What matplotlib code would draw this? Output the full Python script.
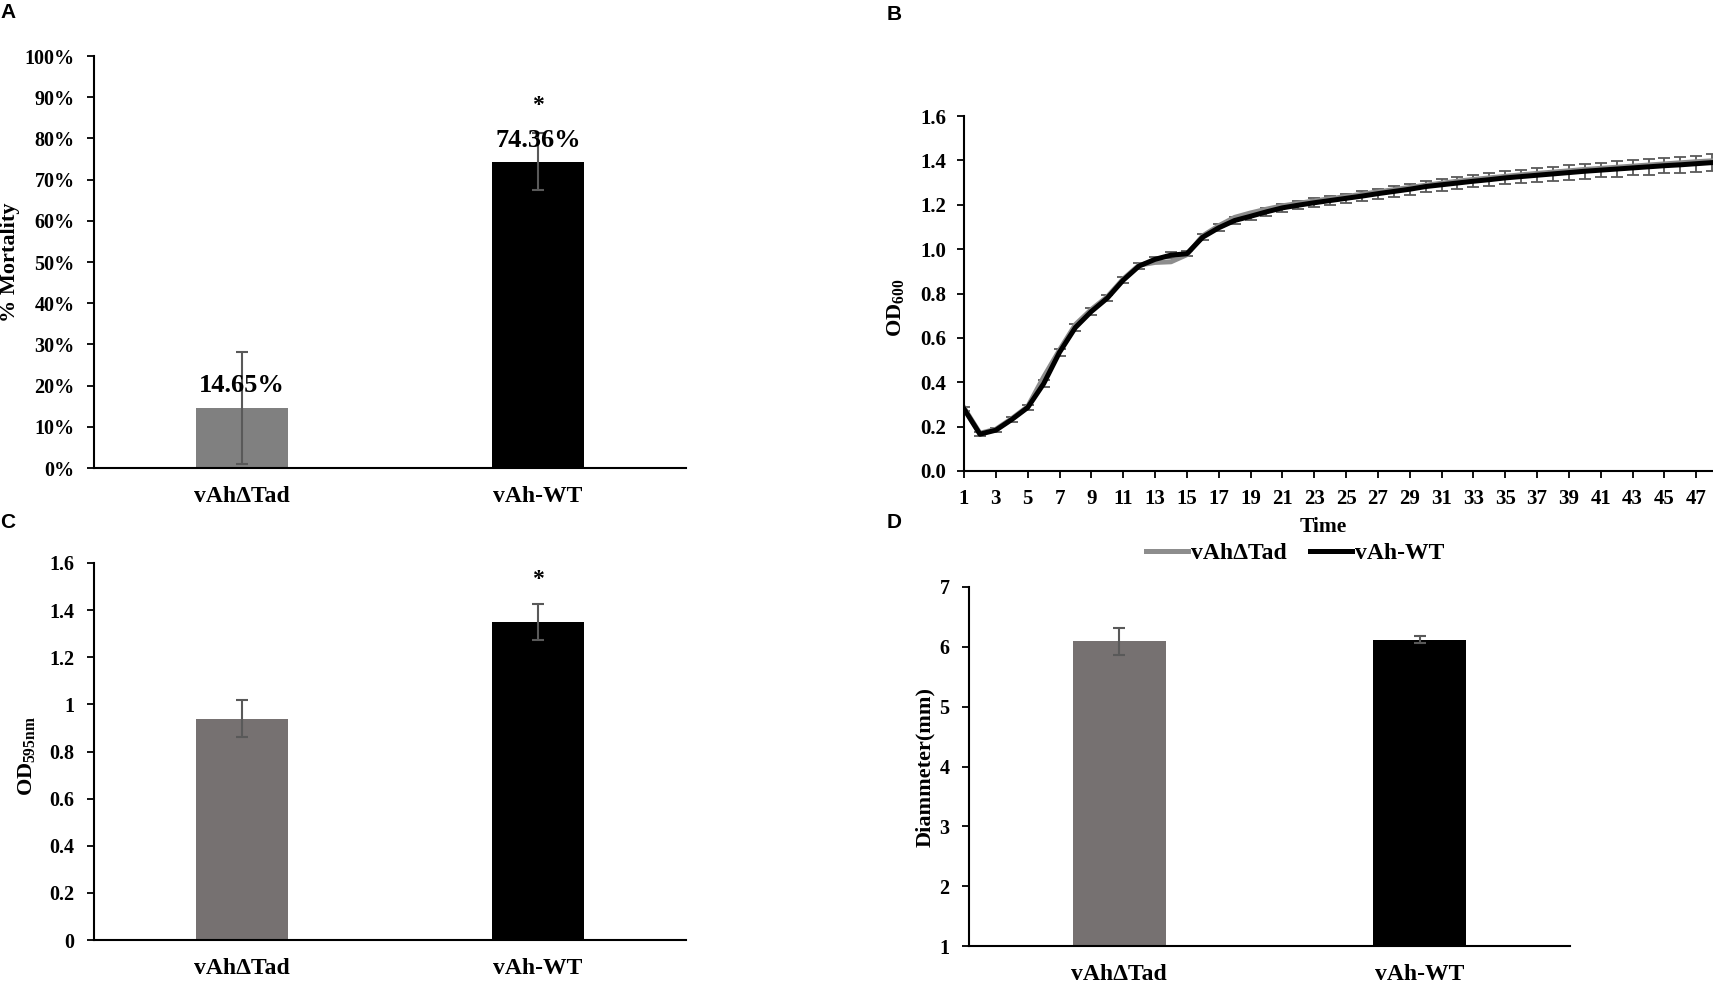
import matplotlib
matplotlib.use('Agg')
import matplotlib.pyplot as plt
from matplotlib.ticker import FuncFormatter, MultipleLocator

plt.rcParams['font.family'] = ['Liberation Serif', 'DejaVu Serif']
plt.rcParams['font.weight'] = 'bold'
plt.rcParams['mathtext.fontset'] = 'custom'
plt.rcParams['mathtext.rm'] = 'Liberation Serif:bold'
plt.rcParams['mathtext.bf'] = 'Liberation Serif:bold'
plt.rcParams['axes.linewidth'] = 1.5

# ---- data ----
strains = ['vAhΔTad', 'vAh-WT']

# A: mortality (%)
mortality = [14.65, 74.36]
mortality_err = [13.6, 7.0]
mortality_labels = ['14.65%', '74.36%']

# B: growth curve OD600
time = list(range(1, 49))
od_wt = [0.280, 0.166, 0.184, 0.232, 0.286, 0.393, 0.535, 0.647, 0.719, 0.779,
         0.860, 0.924, 0.954, 0.973, 0.979, 1.054, 1.096, 1.129, 1.148, 1.168,
         1.186, 1.198, 1.209, 1.219, 1.229, 1.239, 1.250, 1.260, 1.270, 1.282,
         1.290, 1.298, 1.306, 1.313, 1.321, 1.327, 1.333, 1.339, 1.345, 1.351,
         1.356, 1.361, 1.366, 1.371, 1.376, 1.380, 1.385, 1.390]
od_tad = [0.285, 0.170, 0.188, 0.236, 0.290, 0.423, 0.545, 0.660, 0.728, 0.785,
          0.865, 0.928, 0.940, 0.943, 0.975, 1.060, 1.105, 1.143, 1.163, 1.180,
          1.195, 1.206, 1.217, 1.227, 1.237, 1.247, 1.258, 1.268, 1.278, 1.288,
          1.297, 1.306, 1.314, 1.321, 1.328, 1.335, 1.341, 1.347, 1.353, 1.359,
          1.364, 1.369, 1.374, 1.379, 1.384, 1.389, 1.394, 1.398]
od_err = [0.010, 0.008, 0.008, 0.010, 0.012, 0.015, 0.015, 0.015, 0.014, 0.014,
          0.014, 0.012, 0.012, 0.012, 0.012, 0.014, 0.015, 0.016, 0.017, 0.018,
          0.018, 0.019, 0.020, 0.020, 0.021, 0.022, 0.022, 0.023, 0.024, 0.025,
          0.026, 0.027, 0.028, 0.029, 0.029, 0.030, 0.031, 0.031, 0.032, 0.033,
          0.033, 0.034, 0.034, 0.035, 0.035, 0.036, 0.036, 0.037]

# C: biofilm OD595
biofilm = [0.94, 1.35]
biofilm_err = [0.078, 0.078]

# D: motility diameter (mm)
diameter = [6.09, 6.12]
diameter_err = [0.22, 0.06]

W, H = 1713, 982
fig = plt.figure(figsize=(W / 100, H / 100), dpi=100)

def px_axes(l, t, r, b):
    return fig.add_axes([l / W, 1 - b / H, (r - l) / W, (b - t) / H])

def style_bar_ax(ax):
    ax.spines['top'].set_visible(False)
    ax.spines['right'].set_visible(False)
    ax.tick_params(axis='y', direction='out', length=5, width=1.3, pad=9, labelsize=14.5)
    ax.tick_params(axis='x', length=0, pad=13, labelsize=17)
    ax.set_xlim(-0.5, 1.5)
    ax.set_xticks([0, 1])
    ax.set_xticklabels(strains)

err_kw = dict(ecolor='#595959', elinewidth=1.5, capsize=4, capthick=1.5)

# ---- A ----
axA = px_axes(94, 56, 686, 468)
axA.bar([0, 1], mortality, width=0.314, color=['#808080', '#000000'],
        yerr=mortality_err, error_kw=err_kw)
axA.set_ylim(0, 100)
axA.yaxis.set_major_locator(MultipleLocator(10))
axA.yaxis.set_major_formatter(FuncFormatter(lambda v, p: f'{v:.0f}%'))
style_bar_ax(axA)
axA.text(0, 20.1, mortality_labels[0], ha='center', va='center', fontsize=19)
axA.text(1, 79.6, mortality_labels[1], ha='center', va='center', fontsize=19)
axA.text(1, 88.0, '*', ha='center', va='center', fontsize=17)
fig.text(10 / W, 1 - 262 / H, '% Mortality', rotation=90, ha='center', va='center', fontsize=16)

# ---- B ----
axB = px_axes(964, 116, 1713, 471)
axB.errorbar(time, od_wt, yerr=od_err, fmt='none', ecolor='#595959',
             elinewidth=1.3, capsize=4, capthick=1.3, zorder=1)
axB.plot(time, od_tad, color='#8d8d8d', lw=3.6, label='vAhΔTad', zorder=2)
axB.plot(time, od_wt, color='#000000', lw=3.6, label='vAh-WT', zorder=3)
axB.set_xlim(1, 48.05)
axB.set_ylim(0, 1.6)
axB.set_xticks(time[::2])
axB.yaxis.set_major_locator(MultipleLocator(0.2))
axB.yaxis.set_major_formatter(FuncFormatter(lambda v, p: f'{v:.1f}'))
axB.spines['top'].set_visible(False)
axB.spines['right'].set_visible(False)
axB.tick_params(axis='both', direction='out', length=5, width=1.3, labelsize=15)
axB.tick_params(axis='y', pad=8)
axB.tick_params(axis='x', pad=8)
fig.text(1323 / W, 1 - 527 / H, 'Time', ha='center', va='center', fontsize=15.5)
fig.text(896 / W, 1 - 308 / H, r'OD$_{\mathrm{600}}$', rotation=90, ha='center', va='center', fontsize=16)
fig.legend(*axB.get_legend_handles_labels(), loc='center', bbox_to_anchor=(1295 / W, 1 - 553 / H),
           ncol=2, frameon=False, fontsize=17, handlelength=1.8, handletextpad=0.1,
           columnspacing=1.0, borderpad=0)

# ---- C ----
axC = px_axes(94, 563, 686, 940)
axC.bar([0, 1], biofilm, width=0.314, color=['#767171', '#000000'],
        yerr=biofilm_err, error_kw=err_kw)
axC.set_ylim(0, 1.6)
axC.yaxis.set_major_locator(MultipleLocator(0.2))
axC.yaxis.set_major_formatter(FuncFormatter(lambda v, p: f'{v:g}'))
style_bar_ax(axC)
axC.text(1, 1.53, '*', ha='center', va='center', fontsize=17)
fig.text(27 / W, 1 - 756 / H, r'OD$_{\mathrm{595nm}}$', rotation=90, ha='center', va='center', fontsize=16)

# ---- D ----
axD = px_axes(969, 587, 1570, 946)
axD.bar([0, 1], diameter, width=0.31, color=['#767171', '#000000'],
        yerr=diameter_err, error_kw=err_kw)
axD.set_ylim(1, 7)
axD.yaxis.set_major_locator(MultipleLocator(1))
style_bar_ax(axD)
fig.text(925 / W, 1 - 767 / H, 'Diammeter(mm)', rotation=90, ha='center', va='center', fontsize=16)

# panel letters
for letter, x, y in [('A', 0, 13), ('B', 887, 15), ('C', 0, 523), ('D', 887, 523)]:
    fig.text(x / W, 1 - y / H, letter, ha='left', va='center', fontsize=15,
             family=['Liberation Sans', 'DejaVu Sans'], weight='bold')

fig.savefig('out.png', dpi=100)
